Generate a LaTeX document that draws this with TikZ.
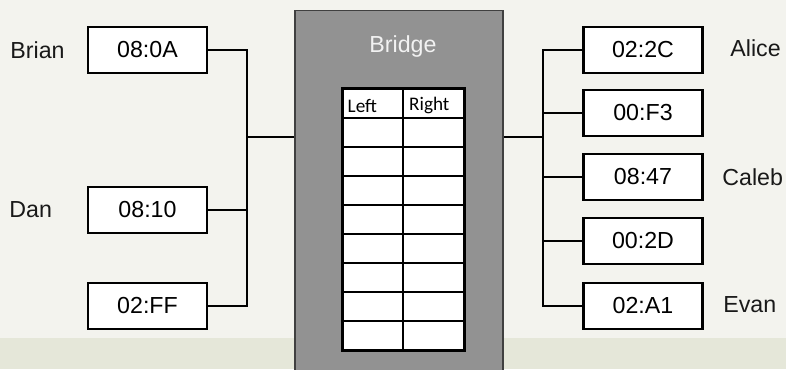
\documentclass[tikz,border=0pt]{standalone}
\usepackage{fontspec}
\setmainfont{Liberation Sans}
\newfontfamily\tablefont{Carlito}
\definecolor{bggrey}{HTML}{F3F3EE}
\definecolor{bandgrey}{HTML}{E5E7D9}
\definecolor{bridgegrey}{HTML}{929292}

\begin{document}
\begin{tikzpicture}[x=0.5pt, y=-0.5pt, font=\fontsize{11.6}{13}\selectfont,
  mac/.style={draw, line width=1.3pt, fill=white, minimum width=59.5pt, minimum height=23pt, inner sep=0pt},
  cell/.style={draw, line width=0.7pt, fill=white, minimum width=30pt, minimum height=14.5pt, inner sep=0pt},
  wire/.style={line width=1.2pt},
  who/.style={anchor=west, inner sep=0pt, text=black!90},
  hd/.style={anchor=west, inner sep=0pt, font=\tablefont\fontsize{9.6}{11}\selectfont}]
\clip (0,0) rectangle (786,369);
\fill[bggrey] (0,0) rectangle (786,369);
\fill[bandgrey] (0,338) rectangle (786,369);

% bridge with its table
\node[draw=black!75, line width=0.6pt, fill=bridgegrey, minimum width=104pt, minimum height=190pt, anchor=north] (bridge) at (399,10) {};
\node[text=white!95!black] (title) at (403,47) {Bridge};
\foreach \r in {0,...,8} {
  \foreach \c/\x in {0/373,1/433.5} {\node[cell] (c\r\c) at (\x,{103.5+29*\r}) {};}
}
\draw[line width=1.6pt] (c00.north west) rectangle (c81.south east);
\node[hd] at ([xshift=2.5pt, yshift=-1pt]c00.west) {Left};
\node[hd] at ([xshift=3pt, yshift=-1pt]c01.west) {Right};

% hosts
\foreach \n/\y/\mac in {1/50/08:0A,2/210/08:10,3/306/02:FF}
  \node[mac] (l\n) at (147.5,\y) {\mac};
\foreach \n/\y/\mac in {1/50/02:2C,2/113/00:F3,3/177/08:47,4/241/00:2D,5/306/02:A1}
  \node[mac] (r\n) at (643,\y) {\mac};
\node[who] (brian) at (10,50) {Brian};
\node[who] (dan) at (9,210) {Dan};
\node[who] (alice) at (730,48) {Alice};
\node[who] (caleb) at (722,177) {Caleb};
\node[who] (evan) at (723,305) {Evan};

% wiring
\coordinate (lbus) at (247,137);
\coordinate (rbus) at (543,137);
\foreach \n in {1,2,3} \draw[wire] (l\n.east) -| (lbus);
\foreach \n in {1,...,5} \draw[wire] (r\n.west) -| (rbus);
\draw[wire] (lbus) -- (bridge.west |- lbus);
\draw[wire] (rbus) -- (bridge.east |- rbus);
\end{tikzpicture}
\end{document}
